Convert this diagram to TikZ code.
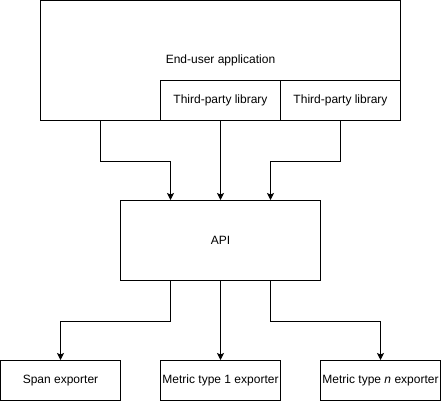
\documentclass[tikz,border=0pt]{standalone}
\usepackage{fontspec}
\setmainfont{Liberation Sans}
\usetikzlibrary{arrows.meta}
\begin{document}
\begin{tikzpicture}[x=1pt,y=-1pt,
  font=\fontsize{12}{14}\selectfont,
  box/.style={draw=black,line width=1pt,fill=white,inner sep=0pt,anchor=center},
  arr/.style={draw=black,line width=1pt,-{Stealth[length=7pt,width=7pt,inset=1.5pt]}}]
\useasboundingbox (0,0) rectangle (441,401);
\node[box,minimum width=360pt,minimum height=120pt] (app) at (220.5,60.5) {End-user application};
\node[box,minimum width=120pt,minimum height=40pt] (lib1) at (220.5,100.5) {Third-party library};
\node[box,minimum width=120pt,minimum height=40pt] (lib2) at (340.5,100.5) {Third-party library};
\node[box,minimum width=200pt,minimum height=80pt] (api) at (220.5,240.5) {API};
\node[box,minimum width=120pt,minimum height=40pt] (span) at (60.5,380.5) {Span exporter};
\node[box,minimum width=120pt,minimum height=40pt] (m1) at (220.5,380.5) {Metric type 1 exporter};
\node[box,minimum width=120pt,minimum height=40pt] (mn) at (380.5,380.5) {Metric type \textit{n} exporter};
\draw[arr] ([xshift=60pt]app.south west) -- ++(0,40) -| ([xshift=-50pt]api.north);
\draw[arr] (lib1.south) -- (api.north);
\draw[arr] (lib2.south) -- ++(0,40) -| ([xshift=50pt]api.north);
\draw[arr] ([xshift=-50pt]api.south) -- ++(0,40) -| (span.north);
\draw[arr] (api.south) -- (m1.north);
\draw[arr] ([xshift=50pt]api.south) -- ++(0,40) -| (mn.north);
\end{tikzpicture}
\end{document}
